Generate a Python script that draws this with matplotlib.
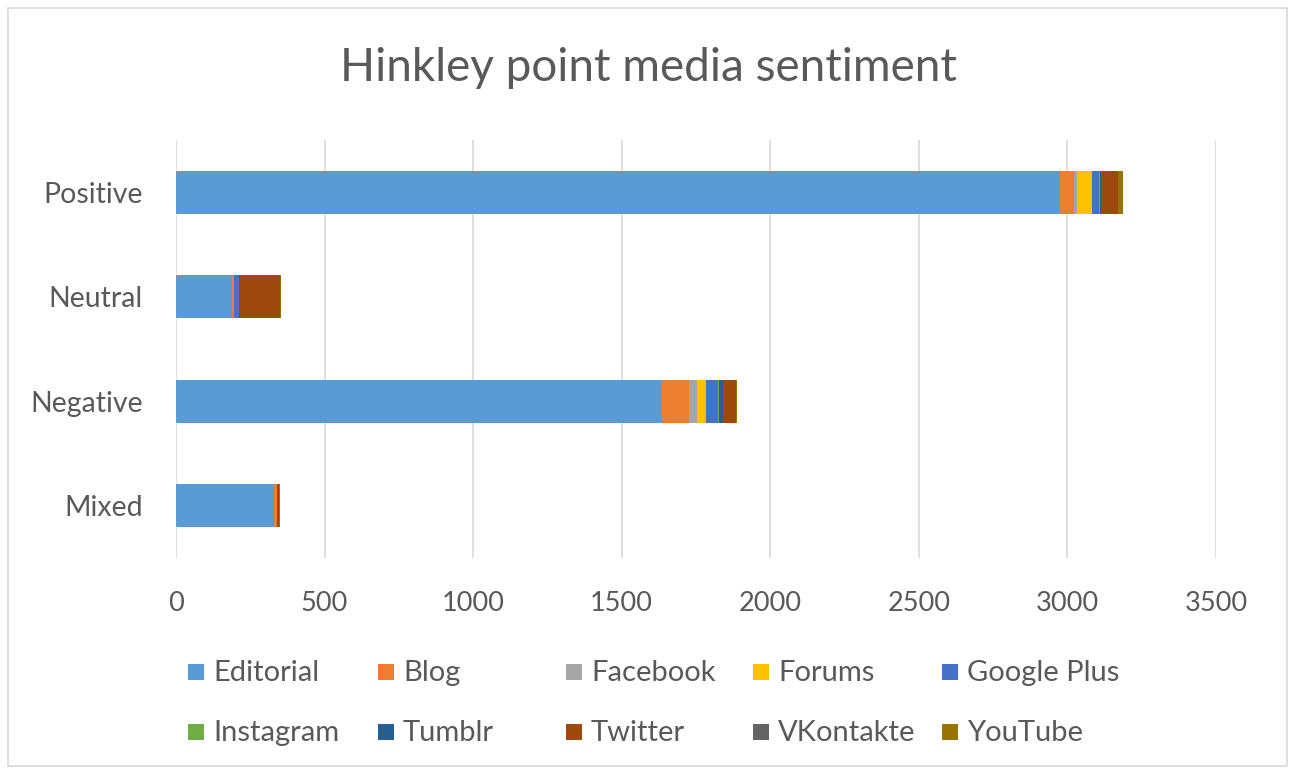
import matplotlib.pyplot as plt
from matplotlib.patches import Rectangle
import numpy as np

plt.rcParams['font.family'] = ['Lato', 'DejaVu Sans']

categories = ["Positive", "Neutral", "Negative", "Mixed"]
sources = ["Editorial", "Blog", "Facebook", "Forums", "Google Plus",
           "Instagram", "Tumblr", "Twitter", "VKontakte", "YouTube"]

editorial = [2975, 189, 1634, 329]
blog = [46, 5, 93, 10]
facebook = [10, 0, 27, 0]
forums = [52, 0, 29, 0]
google_plus = [24, 18, 41, 0]
instagram = [3, 0, 4, 0]
tumblr = [4, 0, 13, 0]
twitter = [56, 137, 43, 7]
vkontakte = [0, 0, 0, 0]
youtube = [17, 3, 4, 4]

series = [editorial, blog, facebook, forums, google_plus,
          instagram, tumblr, twitter, vkontakte, youtube]
colors = ["#5B9BD5", "#ED7D31", "#A5A5A5", "#FFC000", "#4472C4",
          "#70AD47", "#255E91", "#9E480E", "#636363", "#997300"]

text_color = "#595959"
x_ticks = [0, 500, 1000, 1500, 2000, 2500, 3000, 3500]

fig = plt.figure(figsize=(12.89, 7.69), dpi=100)
fig.patches.append(Rectangle((8 / 1289, 3 / 769), 1279 / 1289, 758 / 769,
                             transform=fig.transFigure, fill=False,
                             edgecolor="#D9D9D9", linewidth=1.2))

ax = fig.add_axes([176 / 1289, 1 - 558 / 769, 1040 / 1289, 418 / 769])

y = np.arange(len(categories))
left = np.zeros(len(categories))
for vals, col, name in zip(series, colors, sources):
    vals = np.array(vals, dtype=float)
    ax.barh(y, vals, left=left, height=0.41, color=col, label=name, zorder=3)
    left += vals

ax.set_xlim(0, 3500)
ax.set_ylim(len(categories) - 0.5, -0.5)
ax.set_yticks(y)
ax.set_yticklabels(categories, fontsize=20.5)
ax.set_xticks(x_ticks)
ax.set_xticklabels([str(t) for t in x_ticks], fontsize=19.5)
ax.tick_params(axis='both', length=0, colors=text_color)
ax.tick_params(axis='x', pad=24)
ax.tick_params(axis='y', pad=24)
ax.grid(axis='x', color="#D9D9D9", linewidth=1.2, zorder=0)
for s in ax.spines.values():
    s.set_visible(False)

fig.text(648 / 1289, 1 - 68 / 769, "Hinkley point media sentiment",
         ha='center', va='center', fontsize=33, color=text_color)

# Legend laid out in two rows of five entries
col_x = [188, 378, 566, 753, 942]
row_y = [672, 732]
for i, (name, col) in enumerate(zip(sources, colors)):
    r, c = divmod(i, 5)
    x0 = col_x[c]
    yc = row_y[r]
    fig.patches.append(Rectangle((x0 / 1289, 1 - (yc + 8) / 769), 16 / 1289, 16 / 769,
                                 transform=fig.transFigure, facecolor=col,
                                 edgecolor='none'))
    fig.text((x0 + 25) / 1289, 1 - (yc + 1) / 769, name, ha='left', va='center',
             fontsize=21, color=text_color)

fig.savefig("out.png", dpi=100, facecolor="white")
